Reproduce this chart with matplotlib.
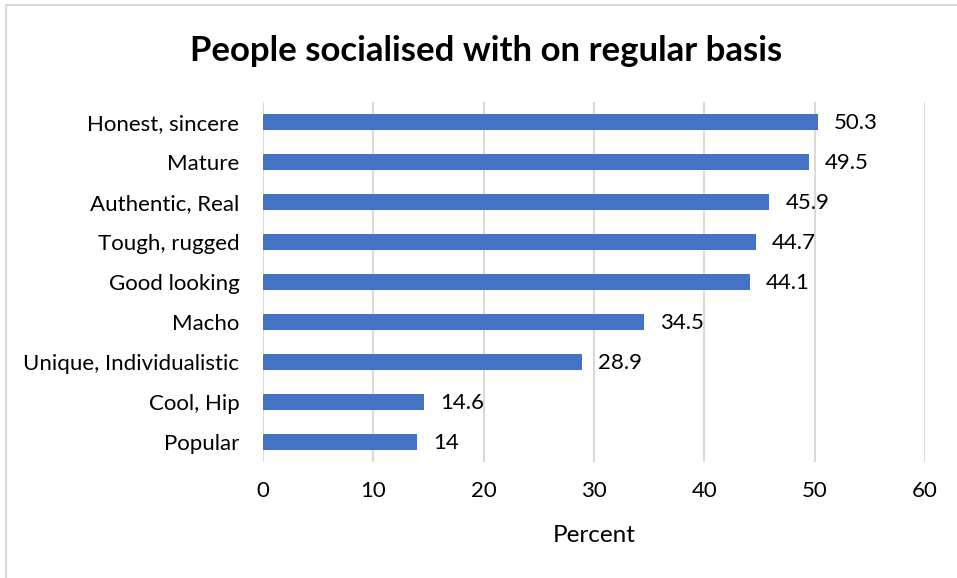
import matplotlib
matplotlib.use("Agg")
import matplotlib.pyplot as plt
from matplotlib.patches import Rectangle

# Traits of people socialised with on a regular basis (percent)
traits = ["Honest, sincere", "Mature", "Authentic, Real", "Tough, rugged",
          "Good looking", "Macho", "Unique, Individualistic", "Cool, Hip", "Popular"]
percent = [50.3, 49.5, 45.9, 44.7, 44.1, 34.5, 28.9, 14.6, 14]
xticks = [0, 10, 20, 30, 40, 50, 60]

plt.rcParams["font.family"] = ["Lato", "DejaVu Sans"]

fig = plt.figure(figsize=(9.57, 5.78), dpi=100)
ax = fig.add_axes([0.2748, 0.2007, 0.6918, 0.6228])

# chart frame
fig.patches.append(Rectangle((6 / 957, -0.01), 1.0, 1 - 5 / 578 + 0.01,
                             transform=fig.transFigure, fill=False,
                             edgecolor="#d9d9d9", linewidth=1.5))

pos = list(range(len(traits)))
ax.barh(pos, percent, height=0.4, color="#4472C4", zorder=3)
for y, v in zip(pos, percent):
    ax.text(v + 1.45, y + 0.03, "{:g}".format(v), va="center", ha="left", fontsize=16, color="#000000")

ax.set_yticks(pos)
ax.set_yticklabels(traits, fontsize=16)
ax.set_ylim(len(traits) - 0.5, -0.5)
ax.set_xlim(0, 60)
ax.set_xticks(xticks)
ax.set_xticklabels([str(t) for t in xticks], fontsize=16)
ax.tick_params(axis="y", length=0, pad=17)
ax.tick_params(axis="x", length=0, pad=14)
ax.grid(axis="x", color="#d9d9d9", linewidth=1.5, zorder=0)
for s in ax.spines.values():
    s.set_visible(False)

ax.set_xlabel("Percent", fontsize=17.5, labelpad=17)
fig.text(0.508, 0.912, "People socialised with on regular basis", ha="center", va="center",
         fontsize=25, fontweight="bold")

fig.savefig("out.png", dpi=100)
